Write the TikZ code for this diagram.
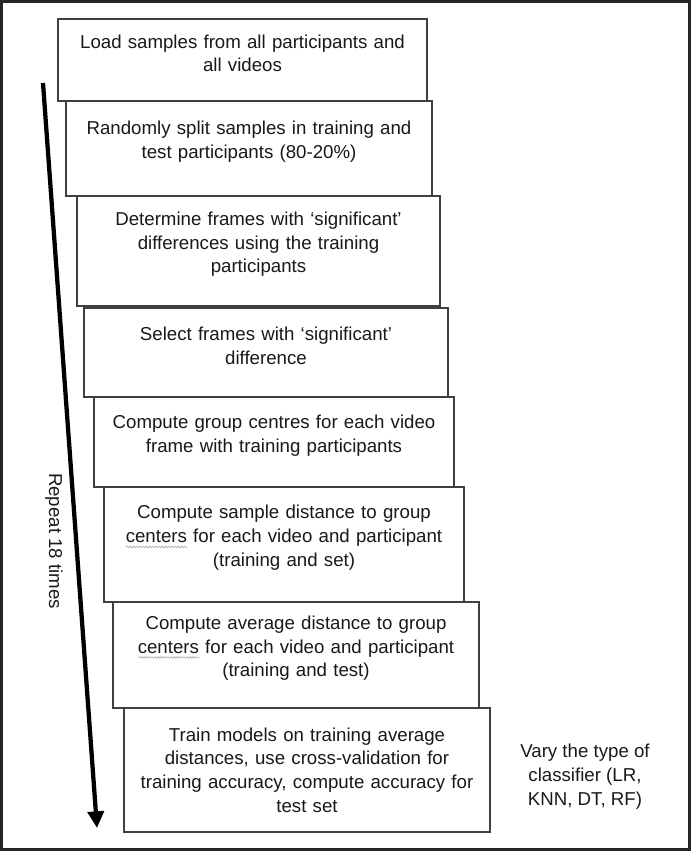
\documentclass[tikz,border=0pt]{standalone}
\usepackage{fontspec}
\setmainfont{Liberation Sans}
\usetikzlibrary{arrows.meta,decorations.pathmorphing}

% grey wavy mark under a word, as a spell checker leaves it
\newdimen\spellwd
\newcommand{\spellmark}[1]{\leavevmode\setbox0\hbox{#1}\spellwd=\wd0\relax
  \rlap{\tikz[baseline=0pt]\draw[black!35, line width=0.45pt, decorate,
    decoration={snake, amplitude=0.6pt, segment length=2.4pt}] (0pt,-3.2pt) -- (\the\spellwd,-3.2pt);}#1}
\def\stagelift{10pt}

\begin{document}
\begin{tikzpicture}[x=0.75pt, y=-0.75pt,
  every node/.style={font=\fontsize{14pt}{17.8pt}\selectfont, text=black!90},
  lift/.code={\def\stagelift{#1}},
  stage/.style args={#1/#2}{draw=black!75, line width=1.1pt, fill=white, minimum width=#1, minimum height=#2,
    text width=262pt, align=center, inner sep=0pt, outer sep=0pt, lift=10pt,
    execute at end node={\endgraf\kern\stagelift}}]
\useasboundingbox (0,0) rectangle (691,851);
\draw[line width=2.25pt, draw=black!85] (1.5,1.5) rectangle (689.5,849.5);

\node[stage={276.75pt/61.5pt}] (load) at (242.5,60) {Load samples from all participants and\\all videos};
\node[stage={274.5pt/71.25pt}] (split) at (249,148.5) {Randomly split samples in training and\\test participants (80-20\%)};
\node[stage={272.25pt/82.5pt}] (signif) at (258.5,251) {Determine frames with `significant'\\differences using the training\\participants};
\node[stage={273pt/66.75pt}] (select) at (266,352.5) {Select frames with `significant'\\difference};
\node[stage={270pt/67.5pt}] (centres) at (274,442) {Compute group centres for each video\\frame with training participants};
\node[stage={270pt/86.25pt}] (sampdist) at (284,544.5) {Compute sample distance to group\\\spellmark{centers} for each video and participant\\(training and set)};
\node[stage={274.5pt/79.5pt}] (avgdist) at (296,655) {Compute average distance to group\\\spellmark{centers} for each video and participant\\(training and test)};
\node[stage={274.5pt/93pt}, lift=0pt] (train) at (307,770) {Train models on training average\\distances, use cross-validation for\\training accuracy, compute accuracy for\\test set};

\node[align=center, font=\fontsize{14pt}{18pt}\selectfont] (vary) at (585,777) {Vary the type of\\classifier (LR,\\KNN, DT, RF)};

% the loop over all steps
\coordinate (looptop) at (43,83);
\coordinate (loopend) at (97,828);
\draw[line width=3.2pt, -{Triangle[width=12pt,length=12.5pt]}] (looptop) -- (loopend);
\node[rotate=-90] (repeat) at (54,541) {Repeat 18 times};
\end{tikzpicture}
\end{document}
